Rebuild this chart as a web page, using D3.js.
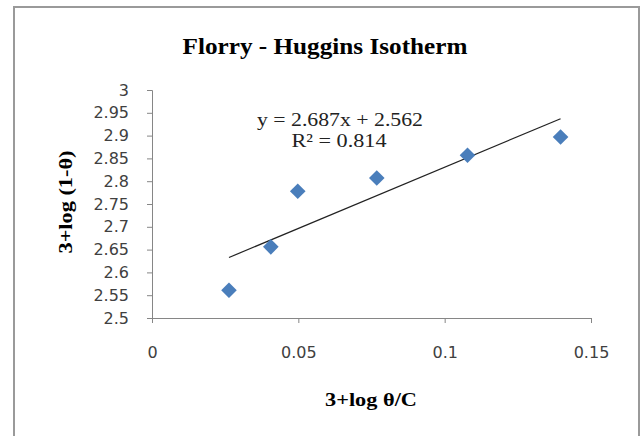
<!DOCTYPE html>
<html lang="en">
<head>
    <meta charset="UTF-8">
    <title>Florry - Huggins Isotherm</title>
    <script src="https://cdn.jsdelivr.net/npm/d3@7"></script>
    <style>
        body { margin: 0; background: #fff; }
    </style>
</head>
<body>
<script>

    // data
    var xVals = [0.0263, 0.0406, 0.0498, 0.0768, 0.1078, 0.1396];
    var yVals = [2.561, 2.656, 2.778, 2.807, 2.857, 2.897];
    var slope = 2.687, intercept = 2.562;
    var xTicks = [0, 0.05, 0.1, 0.15];
    var yTicks = [2.5, 2.55, 2.6, 2.65, 2.7, 2.75, 2.8, 2.85, 2.9, 2.95, 3];

    var svg = d3.select("body").append("svg").attr("width", 643).attr("height", 436);

    // chart area border
    svg.append("rect").attr("x", 14).attr("y", 7).attr("width", 625).attr("height", 440)
        .attr("fill", "#fff").attr("stroke", "#9a9a9a").attr("stroke-width", 2);

    var x = d3.scaleLinear().domain([0, 0.15]).range([152, 591]);
    var y = d3.scaleLinear().domain([2.5, 3]).range([318, 90]);

    // axes
    var xAxis = d3.axisBottom(x).tickValues(xTicks).tickSize(5).tickPadding(24)
        .tickFormat(function (d) { return d; });
    var gx = svg.append("g").attr("transform", "translate(0,318)").call(xAxis);

    var yAxis = d3.axisLeft(y).tickValues(yTicks).tickSize(5).tickPadding(18)
        .tickFormat(function (d) { return d; });
    var gy = svg.append("g").attr("transform", "translate(152,0)").call(yAxis);

    [gx, gy].forEach(function (g) {
        g.select(".domain").attr("stroke", "#868686");
        g.selectAll(".tick line").attr("stroke", "#868686");
        g.selectAll("text").attr("font-family", "DejaVu Sans").attr("font-size", "16px")
            .attr("fill", "#404040");
    });

    // trendline
    var xr = d3.extent(xVals);
    svg.append("line")
        .attr("x1", x(xr[0])).attr("y1", y(slope * xr[0] + intercept))
        .attr("x2", x(xr[1])).attr("y2", y(slope * xr[1] + intercept))
        .attr("stroke", "#222").attr("stroke-width", 1.2);

    // diamonds
    svg.selectAll("path.pt").data(xVals).enter().append("path").attr("class", "pt")
        .attr("d", d3.symbol().type(d3.symbolDiamond2).size(155))
        .attr("transform", function (d, i) {
            return "translate(" + x(d) + "," + y(yVals[i]) + ")";
        })
        .attr("fill", "#4a7ebb");

    // texts
    svg.append("text").attr("x", 325).attr("y", 54).attr("text-anchor", "middle")
        .attr("font-family", "Liberation Serif").attr("font-weight", "bold")
        .attr("font-size", "23px").attr("textLength", 285).attr("lengthAdjust", "spacingAndGlyphs")
        .text("Florry - Huggins Isotherm");

    svg.append("text").attr("x", 340).attr("y", 126).attr("text-anchor", "middle")
        .attr("font-family", "Liberation Serif").attr("font-size", "19px").attr("fill", "#222")
        .attr("textLength", 166).attr("lengthAdjust", "spacingAndGlyphs")
        .text("y = 2.687x + 2.562");
    svg.append("text").attr("x", 339).attr("y", 147).attr("text-anchor", "middle")
        .attr("font-family", "Liberation Serif").attr("font-size", "19px").attr("fill", "#222")
        .attr("textLength", 95).attr("lengthAdjust", "spacingAndGlyphs")
        .text("R² = 0.814");

    svg.append("text").attr("x", 371).attr("y", 406).attr("text-anchor", "middle")
        .attr("font-family", "Liberation Serif").attr("font-weight", "bold")
        .attr("font-size", "19px").attr("textLength", 92).attr("lengthAdjust", "spacingAndGlyphs")
        .text("3+log θ/C");

    svg.append("text").attr("transform", "translate(72,202) rotate(-90)").attr("text-anchor", "middle")
        .attr("font-family", "Liberation Serif").attr("font-weight", "bold")
        .attr("font-size", "19px").attr("textLength", 103).attr("lengthAdjust", "spacingAndGlyphs")
        .text("3+log (1-θ)");

</script>
</body>
</html>
